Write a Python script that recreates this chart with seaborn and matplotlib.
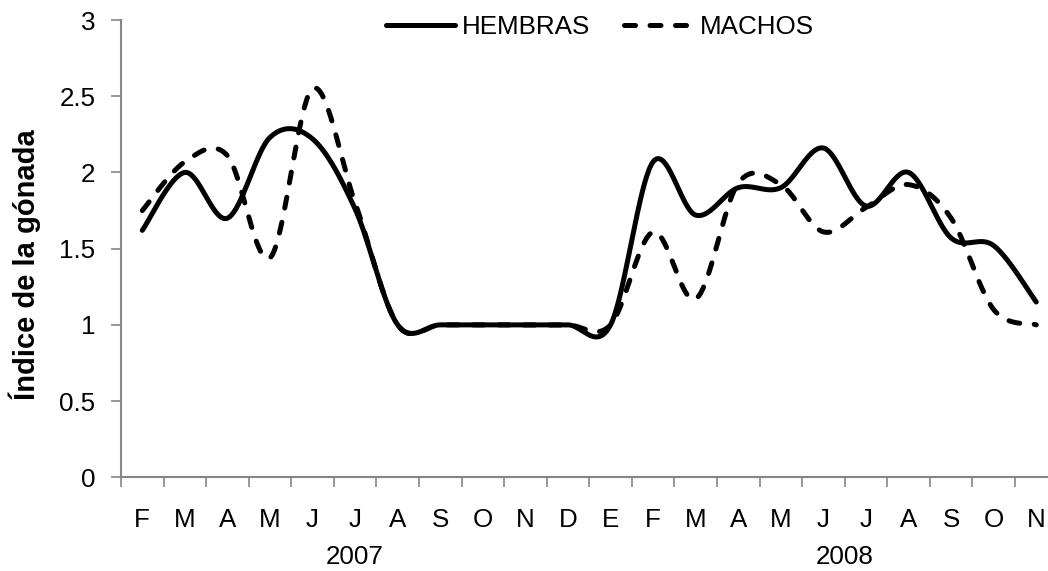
import numpy as np
import pandas as pd
import matplotlib
matplotlib.use("Agg")
import matplotlib.pyplot as plt
import matplotlib.transforms as mtransforms
import seaborn as sns

# ---- data ----
MONTHS = ["F", "M", "A", "M", "J", "J", "A", "S", "O", "N", "D",
          "E", "F", "M", "A", "M", "J", "J", "A", "S", "O", "N"]
YEARS = ["2007", "2008"]
YEAR_SPANS = [11, 12]          # months per year group (2008 group runs past the crop)
HEMBRAS = [1.62, 2.00, 1.70, 2.23, 2.22, 1.76, 1.00, 1.00, 1.00, 1.00, 1.00,
           1.00, 2.07, 1.72, 1.90, 1.90, 2.16, 1.78, 2.00, 1.57, 1.52, 1.15]
MACHOS = [1.75, 2.07, 2.11, 1.44, 2.55, 1.80, 1.00, 1.00, 1.00, 1.00, 1.00,
          1.00, 1.61, 1.17, 1.93, 1.92, 1.61, 1.77, 1.92, 1.70, 1.10, 1.00]
SERIES = {"HEMBRAS": HEMBRAS, "MACHOS": MACHOS}


def smooth(values, n=40):
    """Excel-like smoothed line (cubic Bezier through each point)."""
    y = np.asarray(values, float)
    x = np.arange(len(y), dtype=float)
    xp = np.concatenate([[x[0]], x, [x[-1]]])
    yp = np.concatenate([[y[0]], y, [y[-1]]])
    xs, ys = [], []
    for i in range(len(y) - 1):
        p0 = np.array([xp[i + 1], yp[i + 1]])
        p3 = np.array([xp[i + 2], yp[i + 2]])
        c1 = p0 + (np.array([xp[i + 2], yp[i + 2]]) - np.array([xp[i], yp[i]])) / 6
        c2 = p3 - (np.array([xp[i + 3], yp[i + 3]]) - np.array([xp[i + 1], yp[i + 1]])) / 6
        t = np.linspace(0, 1, n, endpoint=(i == len(y) - 2))[:, None]
        pts = ((1 - t) ** 3) * p0 + 3 * ((1 - t) ** 2) * t * c1 + 3 * (1 - t) * t ** 2 * c2 + t ** 3 * p3
        xs.append(pts[:, 0]); ys.append(pts[:, 1])
    return np.concatenate(xs), np.concatenate(ys)


sns.set_theme(style="white")
FONT = ["Liberation Sans", "DejaVu Sans"]
plt.rcParams["font.family"] = FONT
plt.rcParams["text.color"] = "black"
plt.rcParams["xtick.color"] = "black"
plt.rcParams["ytick.color"] = "black"

W, H = 1048, 571
fig = plt.figure(figsize=(W / 100, H / 100), dpi=100)
fig.patch.set_facecolor("white")
step = 42.57
ax = fig.add_axes([121 / W, 1 - 477.3 / H, 23 * step / W, (477.3 - 20) / H])
ax.set_facecolor("white")

FS = 18.7
GREY = "#868686"
LW = 3.6

styles = {"HEMBRAS": dict(linestyle="-"),
          "MACHOS": dict(linestyle=(0, (2.2, 2.9)))}
for name, vals in SERIES.items():
    sx, sy = smooth(vals)
    df = pd.DataFrame({"x": sx, "y": sy})
    sns.lineplot(data=df, x="x", y="y", ax=ax, color="black", linewidth=LW,
                 sort=False, estimator=None, label=name,
                 dash_capstyle="round", solid_capstyle="round", **styles[name])

ax.set_xlim(-0.5, 22.5)
ax.set_ylim(0, 3)

# y axis
yt = np.arange(0, 3.01, 0.5)
ax.set_yticks(yt)
ax.set_yticklabels([f"{v:g}" for v in yt], fontsize=FS, color="black")
ax.tick_params(axis="y", left=True, direction="out", length=7.5, width=1.2,
               color=GREY, labelcolor="black", pad=11)

# x axis: ticks between categories, labels at centers
ax.set_xticks(np.arange(-0.5, 23, 1))
ax.set_xticklabels([])
ax.set_xticks(np.arange(len(MONTHS)), minor=True)
ax.set_xticklabels(MONTHS, minor=True, fontsize=FS, color="black")
ax.tick_params(axis="x", which="major", bottom=True, direction="out", length=7.5,
               width=1.2, color=GREY)
ax.tick_params(axis="x", which="minor", bottom=True, length=0, pad=22, labelcolor="black")
ax.set_xlabel("")
ax.set_ylabel("")

for s in ["top", "right"]:
    ax.spines[s].set_visible(False)
for s in ["left", "bottom"]:
    ax.spines[s].set_color(GREY)
    ax.spines[s].set_linewidth(1.5)

# year labels centred under their month groups
blend = mtransforms.blended_transform_factory(ax.transData, fig.transFigure)
start = -0.5
for yr, span in zip(YEARS, YEAR_SPANS):
    ax.text(start + span / 2, 1 - 556.7 / H, yr, transform=blend,
            ha="center", va="center", fontsize=FS, color="black")
    start += span

fig.text(25 / W, 1 - 265 / H, "Índice de la gónada", rotation=90, ha="center", va="center",
         fontsize=21, fontweight="bold", color="black")

leg = ax.legend(loc="center", bbox_to_anchor=(600 / W, 1 - 26.7 / H), bbox_transform=fig.transFigure,
                ncol=2, frameon=False, fontsize=FS, handlelength=2.69, handletextpad=0.25,
                columnspacing=1.3, borderpad=0, borderaxespad=0)
for txt in leg.get_texts():
    txt.set_color("black")
for line in leg.get_lines():
    line.set_linewidth(LW)
    line.set_dash_capstyle("round")
    line.set_solid_capstyle("round")

fig.savefig("out.png", dpi=100, facecolor="white")
